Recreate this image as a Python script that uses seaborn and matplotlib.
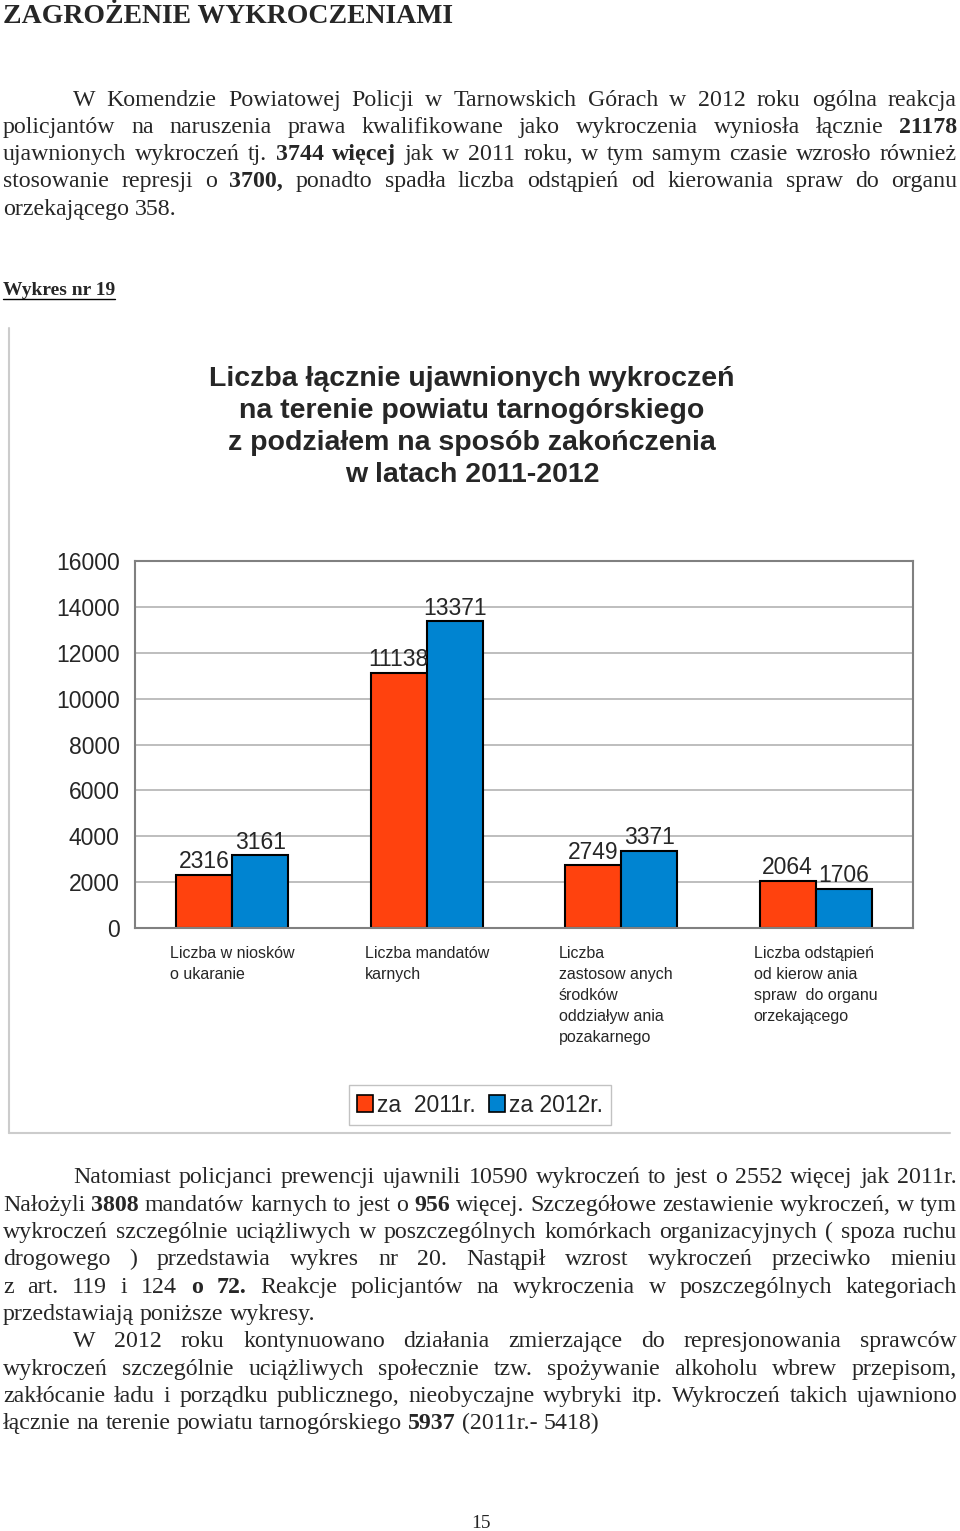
import numpy as np
import pandas as pd
import matplotlib
matplotlib.use('Agg')
import matplotlib.pyplot as plt
import matplotlib.transforms as mtransforms
from matplotlib.patches import Patch
from matplotlib.lines import Line2D
import seaborn as sns

# dane wykresu
kategorie = ["Liczba w niosków\no ukaranie",
             "Liczba mandatów\nkarnych",
             "Liczba\nzastosow anych\nśrodków\noddziaływ ania\npozakarnego",
             "Liczba odstąpień\nod kierow ania\nspraw  do organu\norzekającego"]
lata = ["za  2011r.", "za 2012r."]
wartosci_2011 = [2316, 11138, 2749, 2064]
wartosci_2012 = [3161, 13371, 3371, 1706]
os_y = [0, 2000, 4000, 6000, 8000, 10000, 12000, 14000, 16000]
tytul_wykresu = ("Liczba łącznie ujawnionych wykroczeń\nna terenie powiatu tarnogórskiego\n"
                 "z podziałem na sposób zakończenia\nw latach 2011-2012")

# tekst strony (* = pogrubienie)
naglowek = "ZAGROŻENIE WYKROCZENIAMI"
akapit1 = [
    "W Komendzie Powiatowej Policji w Tarnowskich Górach w 2012 roku ogólna reakcja",
    "policjantów na naruszenia prawa kwalifikowane jako wykroczenia wyniosła łącznie *21178",
    "ujawnionych wykroczeń tj. *3744 *więcej jak w 2011 roku, w tym samym czasie wzrosło również",
    "stosowanie represji o *3700, ponadto spadła liczba odstąpień od kierowania spraw do organu",
    "orzekającego 358.",
]
akapit2 = [
    "Natomiast policjanci prewencji ujawnili 10590 wykroczeń to jest o 2552 więcej jak 2011r.",
    "Nałożyli *3808 mandatów karnych to jest o *956 więcej. Szczegółowe zestawienie wykroczeń, w tym",
    "wykroczeń szczególnie uciążliwych w poszczególnych komórkach organizacyjnych ( spoza ruchu",
    "drogowego ) przedstawia wykres nr 20. Nastąpił wzrost wykroczeń przeciwko mieniu",
    "z art. 119 i 124 *o *72. Reakcje policjantów na wykroczenia w poszczególnych kategoriach",
    "przedstawiają poniższe wykresy.",
    "W 2012 roku kontynuowano działania zmierzające do represjonowania sprawców",
    "wykroczeń szczególnie uciążliwych społecznie tzw. spożywanie alkoholu wbrew przepisom,",
    "zakłócanie ładu i porządku publicznego, nieobyczajne wybryki itp. Wykroczeń takich ujawniono",
    "łącznie na terenie powiatu tarnogórskiego *5937 (2011r.- 5418)",
]

czerwony = '#ff420e'
niebieski = '#0084d1'
SERIF = 'Liberation Serif'
SANS = 'Liberation Sans'

sns.set_style('white')
plt.rcParams['font.family'] = [SANS, 'DejaVu Sans']

W, H = 960, 1531
fig = plt.figure(figsize=(W / 100, H / 100), dpi=100)
renderer = fig.canvas.get_renderer()


def fy(py):
    return 1 - py / H


def linia(tekst, x0, x1, y, justuj, size=17.2):
    slowa = tekst.split()
    arts = []
    for s in slowa:
        bold = s.startswith('*')
        t = fig.text(0, fy(y + 6), s.lstrip('*'), fontsize=size, family=SERIF,
                     fontweight='bold' if bold else 'normal', va='baseline', ha='left')
        arts.append(t)
    szer = [t.get_window_extent(renderer).width for t in arts]
    if justuj and len(arts) > 1:
        odstep = (x1 - x0 - sum(szer)) / (len(arts) - 1)
    else:
        odstep = size * 100 / 72 * 0.25
    x = x0
    for t, w in zip(arts, szer):
        t.set_x(x / W)
        x += w + odstep


# naglowek i pierwszy akapit
fig.text(3 / W, fy(23), naglowek, fontsize=20, family=SERIF, fontweight='bold', va='baseline', ha='left')
ys1 = [100, 127, 154, 181, 209]
for i, (l, y) in enumerate(zip(akapit1, ys1)):
    linia(l, 73 if i == 0 else 3, 957, y, i < len(akapit1) - 1)

t = fig.text(3 / W, fy(295), "Wykres nr 19", fontsize=14, family=SERIF, fontweight='bold', va='baseline', ha='left')
bb = t.get_window_extent(renderer)
fig.add_artist(Line2D([bb.x0 / W, bb.x1 / W], [fy(299), fy(299)], transform=fig.transFigure, color='black', lw=1))

# ramka wykresu
fig.add_artist(Line2D([9 / W, 9 / W], [fy(328), fy(1133)], transform=fig.transFigure, color='#cccccc', lw=1.5))
fig.add_artist(Line2D([9 / W, 950 / W], [fy(1133), fy(1133)], transform=fig.transFigure, color='#cccccc', lw=1.5))

fig.text(472 / W, fy(427), tytul_wykresu, fontsize=20.5, fontweight='bold', ha='center', va='center',
         multialignment='center', linespacing=1.3)

# wykres
ax = fig.add_axes([135 / W, fy(928), 778 / W, 367 / H])
df = pd.DataFrame({
    'kategoria': kategorie * 2,
    'rok': [lata[0]] * 4 + [lata[1]] * 4,
    'liczba': wartosci_2011 + wartosci_2012,
})
sns.barplot(data=df, x='kategoria', y='liczba', hue='rok', palette=[czerwony, niebieski],
            width=0.576, edgecolor='black', linewidth=1.5, saturation=1, legend=False, ax=ax)
for c in ax.containers:
    ax.bar_label(c, fontsize=16.5, padding=1)

ax.set_xlim(-0.5, 3.5)
ax.set_ylim(0, 16000)
ax.set_yticks(os_y)
ax.set_xticks([])
ax.set_xticks([-0.5, 0.5, 1.5, 2.5, 3.5], minor=True)
ax.tick_params(axis='y', length=0, pad=11, labelsize=16.5)
ax.tick_params(axis='x', which='minor', length=7, color='#cccccc', width=1)
ax.set_xlabel('')
ax.set_ylabel('')
ax.yaxis.grid(True, color='#b3b3b3', linewidth=1.2)
ax.set_axisbelow(True)
for s in ax.spines.values():
    s.set_color('#808080')
    s.set_linewidth(1.5)

trans = mtransforms.blended_transform_factory(ax.transData, fig.transFigure)
for i, k in enumerate(kategorie):
    ax.text(i - 0.32, fy(946), k, transform=trans, ha='left', va='top', fontsize=11.5, linespacing=1.5)

uchwyty = [Patch(facecolor=czerwony, edgecolor='black', linewidth=1.2),
           Patch(facecolor=niebieski, edgecolor='black', linewidth=1.2)]
fig.legend(uchwyty, lata, loc='center', bbox_to_anchor=(480 / W, fy(1105)), ncol=2, frameon=True,
           fancybox=False, edgecolor='#b3b3b3', fontsize=16.5, handlelength=0.7, handleheight=0.8,
           handletextpad=0.15, columnspacing=0.6, borderpad=0.35)

# drugi akapit
ys2 = [1177, 1205, 1232, 1259, 1287, 1314, 1341, 1369, 1396, 1423]
for i, (l, y) in enumerate(zip(akapit2, ys2)):
    wciecie = i in (0, 6)
    justuj = i not in (5, 9)
    linia(l, 73 if wciecie else 3, 957, y, justuj)

fig.text(481 / W, fy(1528), "15", fontsize=14, family=SERIF, ha='center', va='baseline')

fig.savefig('out.png', dpi=100, facecolor='white')
